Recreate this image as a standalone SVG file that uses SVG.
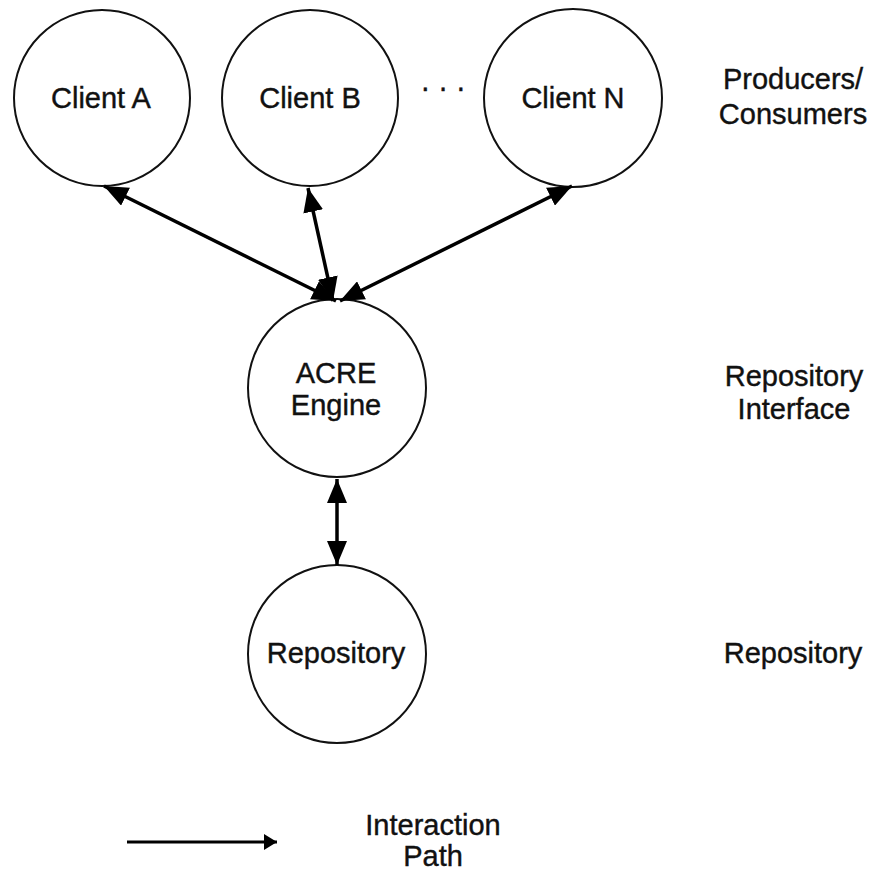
<svg xmlns="http://www.w3.org/2000/svg" width="872" height="872" viewBox="0 0 872 872">
  <defs>
    <marker id="head" viewBox="0 0 24 20" refX="24" refY="10" markerWidth="24" markerHeight="20" markerUnits="userSpaceOnUse" orient="auto-start-reverse">
      <path d="M0,0 L24,10 L0,20 z" fill="#000"/>
    </marker>
    <marker id="head-small" viewBox="0 0 13 16" refX="13" refY="8" markerWidth="13" markerHeight="16" markerUnits="userSpaceOnUse" orient="auto">
      <path d="M0,0 L13,8 L0,16 z" fill="#000"/>
    </marker>
  </defs>
  <style>
    .node circle { fill: #fff; stroke: #111; stroke-width: 2; }
    text { font-family: "Liberation Sans", Arial, sans-serif; font-size: 29px; fill: #111; stroke: #111; stroke-width: 0.4; text-anchor: middle; }
    .link { stroke: #000; stroke-width: 3.5; fill: none; marker-start: url(#head); marker-end: url(#head); }
  </style>
  <rect width="872" height="872" fill="#fff"/>

  <g id="client-a" class="node">
    <circle cx="102" cy="98" r="88"/>
    <text x="101" y="108">Client A</text>
  </g>
  <g id="client-b" class="node">
    <circle cx="310" cy="98" r="88"/>
    <text x="310" y="108">Client B</text>
  </g>
  <g id="ellipsis">
    <text x="443" y="97" font-size="16" fill="#666" stroke="none">· · ·</text>
  </g>
  <g id="client-n" class="node">
    <circle cx="573" cy="98" r="89"/>
    <text x="573" y="108">Client N</text>
  </g>
  <g id="acre-engine" class="node">
    <circle cx="337" cy="388" r="89"/>
    <text x="336" y="383">ACRE</text>
    <text x="336" y="415">Engine</text>
  </g>
  <g id="repository" class="node">
    <circle cx="337" cy="654" r="89"/>
    <text x="336" y="663">Repository</text>
  </g>

  <g id="tier-labels">
    <text x="793" y="89">Producers/</text>
    <text x="793" y="124">Consumers</text>
    <text x="794" y="386">Repository</text>
    <text x="794" y="419">Interface</text>
    <text x="793" y="663">Repository</text>
  </g>

  <g id="connectors">
    <line class="link" x1="104" y1="186" x2="336" y2="301"/>
    <line class="link" x1="308" y1="188" x2="333" y2="301"/>
    <line class="link" x1="572" y1="186" x2="340" y2="301"/>
    <line class="link" x1="337" y1="479" x2="337" y2="565"/>
  </g>

  <g id="legend">
    <line x1="127" y1="842" x2="277" y2="842" stroke="#000" stroke-width="3" marker-end="url(#head-small)"/>
    <text x="433" y="835">Interaction</text>
    <text x="433" y="866">Path</text>
  </g>
</svg>
